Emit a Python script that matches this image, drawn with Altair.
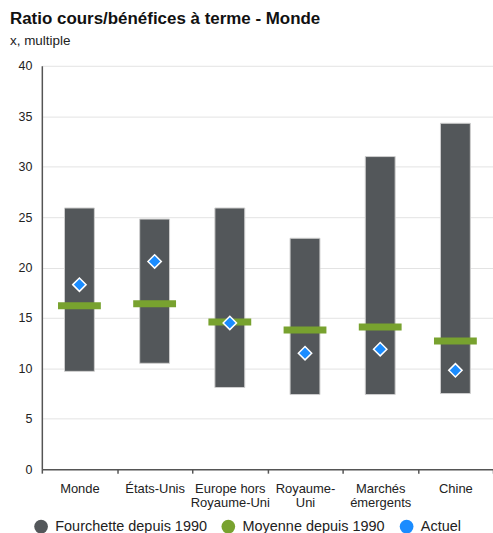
import altair as alt
import pandas as pd

categories = ["Monde", "États-Unis", "Europe hors|Royaume-Uni", "Royaume-|Uni", "Marchés|émergents", "Chine"]
range_low = [9.7, 10.5, 8.1, 7.4, 7.4, 7.5]
range_high = [25.9, 24.8, 25.9, 22.9, 31.0, 34.3]
mean_since_1990 = [16.2, 16.4, 14.6, 13.8, 14.1, 12.7]
current = [18.3, 20.6, 14.5, 11.5, 11.9, 9.8]

series_names = ["Fourchette depuis 1990", "Moyenne depuis 1990", "Actuel"]
series_colors = ["#53575A", "#78A22F", "#1A8CFF"]

df = pd.DataFrame({
    "cat": categories,
    "low": range_low,
    "high": range_high,
    "mean": mean_since_1990,
    "cur": current,
})

color_scale = alt.Scale(domain=series_names, range=series_colors)
legend = alt.Legend(
    title=None, orient="none", legendX=-8, legendY=455, direction="horizontal",
    symbolType="circle", symbolSize=190, labelFontSize=14.5, labelFont="Liberation Sans",
    labelColor="#222222", columnPadding=14, symbolStrokeWidth=0, labelOffset=7,
)

x = alt.X("cat:N", sort=categories, title=None,
          scale=alt.Scale(paddingInner=0, paddingOuter=0),
          axis=alt.Axis(labelExpr="split(datum.label, '|')", labelAngle=0,
                        labelFontSize=13, labelFont="Liberation Sans", labelColor="#222222",
                        labelPadding=9, labelLineHeight=14, tickBand="extent",
                        ticks=True, tickSize=4, tickColor="#555555", tickWidth=1.5,
                        domainColor="#555555", domainWidth=1.5, grid=False))
y_scale = alt.Scale(domain=[0, 40], nice=False)
y_axis = alt.Axis(values=[0, 5, 10, 15, 20, 25, 30, 35, 40], ticks=False, labelPadding=10,
                  labelFontSize=12.5, labelFont="Liberation Sans", labelColor="#222222",
                  domainColor="#555555", domainWidth=1.5, gridColor="#E3E3E3", gridWidth=1)

base = alt.Chart(df)
color = alt.Color("series:N", scale=color_scale, legend=legend)

bars = base.mark_bar(size=30, stroke="#CFCFCF", strokeWidth=1).transform_calculate(
    series="'" + series_names[0] + "'"
).encode(
    x=x,
    y=alt.Y("low:Q", scale=y_scale, axis=y_axis, title=None),
    y2="high:Q",
    color=color,
)

means = base.mark_tick(size=43, thickness=7, opacity=1).transform_calculate(
    series="'" + series_names[1] + "'"
).encode(
    x=x,
    y=alt.Y("mean:Q", scale=y_scale),
    color=color,
)

points = base.mark_point(shape="diamond", filled=True, size=180, opacity=1,
                         stroke="white", strokeWidth=1.5).transform_calculate(
    series="'" + series_names[2] + "'"
).encode(
    x=x,
    y=alt.Y("cur:Q", scale=y_scale),
    color=color,
)

chart = alt.layer(bars, means, points).properties(
    width=453, height=405,
    autosize=alt.AutoSizeParams(type="none"),
    padding={"left": 42, "top": 65, "right": 0, "bottom": 63},
    title=alt.TitleParams(
        "Ratio cours/bénéfices à terme - Monde",
        subtitle="x, multiple",
        anchor="start", frame="group", dx=-32, offset=11,
        font="Liberation Sans", fontSize=17, fontWeight="bold", color="#111111",
        subtitleFont="Liberation Sans", subtitleFontSize=13.5, subtitleColor="#222222",
        subtitlePadding=6,
    ),
).configure_view(stroke=None)

chart.save("out.html", embed_options={"renderer": "svg", "actions": False})
